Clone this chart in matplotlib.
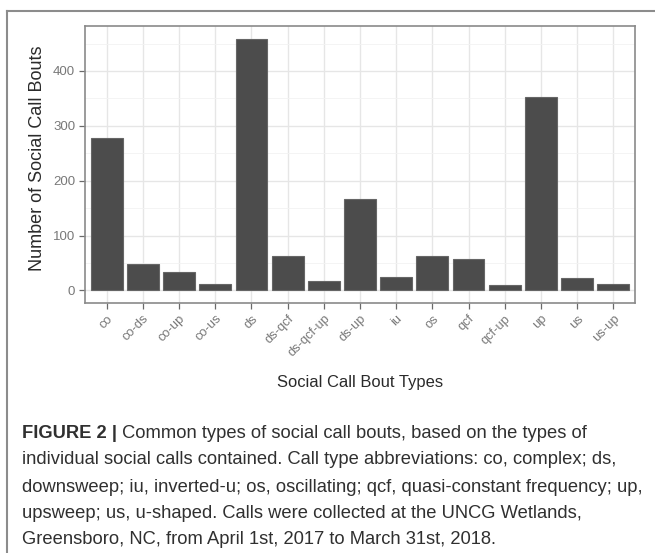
import matplotlib
matplotlib.use("Agg")
import matplotlib.pyplot as plt
from matplotlib.lines import Line2D
import numpy as np

categories = ["co", "co-ds", "co-up", "co-us", "ds", "ds-qcf", "ds-qcf-up", "ds-up",
              "iu", "os", "qcf", "qcf-up", "up", "us", "us-up"]
counts = [277, 48, 34, 11, 459, 63, 17, 167, 25, 62, 57, 10, 352, 23, 11]
y_ticks = [0, 100, 200, 300, 400]

x_title = "Social Call Bout Types"
y_title = "Number of Social Call Bouts"
caption_bold = "FIGURE 2 |"
caption_lines = [
    " Common types of social call bouts, based on the types of",
    "individual social calls contained. Call type abbreviations: co, complex; ds,",
    "downsweep; iu, inverted-u; os, oscillating; qcf, quasi-constant frequency; up,",
    "upsweep; us, u-shaped. Calls were collected at the UNCG Wetlands,",
    "Greensboro, NC, from April 1st, 2017 to March 31st, 2018.",
]

plt.rcParams['font.family'] = ['Liberation Sans', 'DejaVu Sans']

W, H = 655, 553
fig = plt.figure(figsize=(W / 100, H / 100), dpi=100)
fig.patch.set_facecolor("white")

def fx(px):
    return px / W

def fy(py):
    return 1 - py / H

ax = fig.add_axes([fx(85), fy(303), fx(635) - fx(85), fy(26) - fy(303)])

x = np.arange(1, len(categories) + 1)
ax.bar(x, counts, width=0.88, color="#4c4c4c", edgecolor="#666666", linewidth=0.8, zorder=3)

ymax = max(counts)
ax.set_ylim(-0.05 * ymax, ymax * 1.05)
ax.set_xlim(0.4, len(categories) + 0.6)

ax.set_yticks(y_ticks)
ax.set_yticks([50, 150, 250, 350, 450], minor=True)
ax.set_xticks(x)
ax.set_xticklabels(categories, rotation=45, ha="right", va="top",
                   rotation_mode="anchor", fontsize=9.3, color="#787878")
ax.tick_params(axis="y", labelsize=9.5, labelcolor="#787878")
ax.tick_params(axis="both", which="major", length=4, width=0.9, color="#6a6a6a", pad=3)
ax.tick_params(axis="both", which="minor", length=0)

ax.grid(True, which="major", color="#e6e6e6", linewidth=1.0, zorder=0)
ax.grid(True, which="minor", axis="y", color="#f2f2f2", linewidth=0.6, zorder=0)
ax.set_axisbelow(True)
for s in ax.spines.values():
    s.set_color("#8a8a8a")
    s.set_linewidth(1.2)

fig.text(fx(360), fy(382), x_title, ha="center", va="center", fontsize=11.9, color="#2a2a2a")
fig.text(fx(38), fy(158), y_title, ha="center", va="center", rotation=90, fontsize=13,
         color="#2a2a2a")

# outer frame
fig.add_artist(Line2D([fx(7), fx(7)], [fy(10.5), 0], color="#8c8c8c", linewidth=1.5))
fig.add_artist(Line2D([fx(7), 1], [fy(10.5), fy(10.5)], color="#8c8c8c", linewidth=1.5))

# caption
cap_font = ['Liberation Sans', 'DejaVu Sans']
cap_size = 13.2
line_y = [433, 460, 487, 513, 539]
fig.canvas.draw()
r = fig.canvas.get_renderer()
tb = fig.text(fx(22), fy(line_y[0]), caption_bold, ha="left", va="center", family=cap_font,
              fontsize=cap_size, fontweight="bold", color="#303030")
bb = tb.get_window_extent(renderer=r)
fig.text(bb.x1 / W, fy(line_y[0]), caption_lines[0], ha="left", va="center", family=cap_font,
         fontsize=cap_size, color="#303030")
for ly, line in zip(line_y[1:], caption_lines[1:]):
    fig.text(fx(22), fy(ly), line, ha="left", va="center", family=cap_font,
             fontsize=cap_size, color="#303030")

fig.savefig("out.png", dpi=100, facecolor="white")
